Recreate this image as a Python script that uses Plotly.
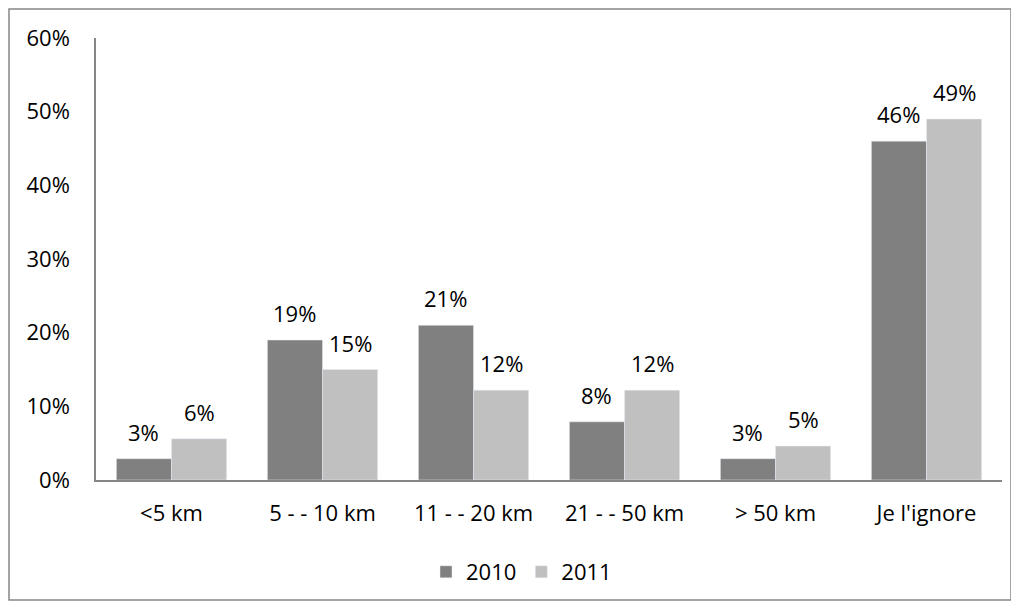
import plotly.graph_objects as go

categories = ["<5 km", "5 - - 10 km", "11 - - 20 km", "21 - - 50 km", "> 50 km", "Je l'ignore"]
values_2010 = [0.029, 0.19, 0.21, 0.079, 0.029, 0.46]
values_2011 = [0.056, 0.15, 0.122, 0.122, 0.046, 0.49]
series = [("2010", values_2010, "#808080"), ("2011", values_2011, "#C0C0C0")]
y_ticks = [0, 0.1, 0.2, 0.3, 0.4, 0.5, 0.6]

FONT = "Open Sans"
FS = 22
# page body has an 8px margin; figure coordinates are screen coordinates minus 8
W, H = 1004, 593
L, T = 88, 30
pw, ph = 994 - L, 472 - T
R, B = W - L - pw, H - T - ph
BARGAP = 0.27

def px_x(x):
    return (x - L) / pw

def px_y(y):
    return (T + ph - y) / ph

fig = go.Figure()
for name, vals, col in series:
    fig.add_trace(go.Bar(x=categories, y=vals, name=name, marker_color=col))

# data labels above each bar
bar_w = pw / len(categories) * (1 - BARGAP) / len(series)
for i, (name, vals, col) in enumerate(series):
    shift = (i - (len(series) - 1) / 2) * bar_w
    for c, v in zip(categories, vals):
        fig.add_annotation(x=c, y=v, xref="x", yref="y", text=f"{v:.0%}",
                           showarrow=False, yanchor="bottom", xanchor="center",
                           xshift=shift, yshift=10,
                           font=dict(size=FS, color="#000", family=FONT))

fig.update_layout(
    width=W, height=H,
    margin=dict(l=L, r=R, t=T, b=B, autoexpand=False),
    paper_bgcolor="white", plot_bgcolor="white",
    font=dict(family=FONT, size=FS, color="#000"),
    barmode="group", bargap=BARGAP, bargroupgap=0,
    showlegend=True,
    legend=dict(orientation="h", x=px_x(418), xanchor="left",
                y=px_y(564), yanchor="middle",
                font=dict(size=FS), itemwidth=30, traceorder="normal"),
)
fig.update_xaxes(showline=True, linecolor="#868686", linewidth=1.5, ticks="",
                 showgrid=False, tickfont=dict(size=FS), ticklabelstandoff=13)
fig.update_yaxes(range=[0, 0.6], tickvals=y_ticks, tickformat=".0%", showline=True,
                 linecolor="#868686", linewidth=1.5, ticks="", showgrid=False,
                 zeroline=False, tickfont=dict(size=FS), ticklabelstandoff=20)

# outer chart border
fig.add_shape(type="rect", xref="paper", yref="paper",
              x0=px_x(1), x1=px_x(W - 1), y0=px_y(H - 1), y1=px_y(1),
              line=dict(color="#868686", width=1.5), layer="below")

fig.write_html("out.html")
